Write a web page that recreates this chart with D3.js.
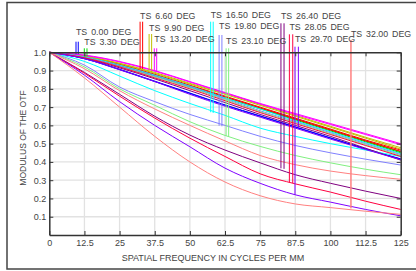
<!DOCTYPE html>
<html>
<head>
<meta charset="utf-8">
<script src="https://cdn.jsdelivr.net/npm/d3@7"></script>
<style>
  body { margin: 0; background: #fff; }
  svg { display: block; font-family: "Liberation Sans", Arial, sans-serif; }
</style>
</head>
<body>
<div id="chart"></div>
<script>
// spatial frequencies where the curves were read (cycles per mm)
const freqs = [0, 12.5, 25, 37.5, 50, 62.5, 75, 87.5, 100, 112.5, 125];

const fieldNames = ["TS 0.00 DEG", "TS 3.30 DEG", "TS 6.60 DEG", "TS 9.90 DEG", "TS 13.20 DEG", "TS 16.50 DEG",
    "TS 19.80 DEG", "TS 23.10 DEG", "TS 26.40 DEG", "TS 28.05 DEG", "TS 29.70 DEG", "TS 32.00 DEG"];

const fieldColors = ["#0000ff", "#00e000", "#ff0000", "#c0c000", "#ff00ff", "#00ffff",
    "#8080ff", "#80f080", "#800080", "#ff0040", "#8000ff", "#ff8080"];

// tangential curves
const mtfT = [
    [1, 0.966, 0.907, 0.842, 0.777, 0.712, 0.652, 0.592, 0.532, 0.472, 0.417],
    [1, 0.975, 0.93, 0.875, 0.815, 0.755, 0.695, 0.635, 0.575, 0.515, 0.455],
    [1, 0.978, 0.935, 0.88, 0.82, 0.76, 0.70, 0.64, 0.58, 0.52, 0.465],
    [1, 0.98, 0.94, 0.89, 0.83, 0.775, 0.715, 0.655, 0.595, 0.535, 0.478],
    [1, 0.985, 0.95, 0.90, 0.84, 0.78, 0.72, 0.665, 0.61, 0.555, 0.50],
    [1, 0.975, 0.93, 0.875, 0.815, 0.75, 0.69, 0.625, 0.565, 0.505, 0.445],
    [1, 0.972, 0.925, 0.87, 0.81, 0.745, 0.68, 0.62, 0.56, 0.50, 0.44],
    [1, 0.97, 0.92, 0.865, 0.805, 0.74, 0.675, 0.615, 0.555, 0.495, 0.435],
    [1, 0.968, 0.915, 0.855, 0.79, 0.725, 0.66, 0.60, 0.54, 0.475, 0.41],
    [1, 0.97, 0.92, 0.86, 0.80, 0.735, 0.67, 0.61, 0.55, 0.49, 0.43],
    [1, 0.965, 0.905, 0.84, 0.77, 0.705, 0.645, 0.585, 0.525, 0.468, 0.412],
    [1, 0.91, 0.79, 0.69, 0.60, 0.515, 0.435, 0.385, 0.35, 0.325, 0.305]
];

// sagittal curves
const mtfS = [
    [1, 0.965, 0.905, 0.84, 0.775, 0.71, 0.65, 0.59, 0.53, 0.47, 0.415],
    [1, 0.973, 0.925, 0.87, 0.81, 0.75, 0.69, 0.63, 0.57, 0.51, 0.45],
    [1, 0.976, 0.93, 0.875, 0.815, 0.755, 0.695, 0.635, 0.575, 0.515, 0.458],
    [1, 0.979, 0.938, 0.885, 0.826, 0.77, 0.71, 0.65, 0.59, 0.53, 0.47],
    [1, 0.983, 0.947, 0.897, 0.837, 0.777, 0.717, 0.66, 0.605, 0.55, 0.495],
    [1, 0.95, 0.87, 0.79, 0.72, 0.655, 0.585, 0.54, 0.50, 0.465, 0.43],
    [1, 0.93, 0.81, 0.73, 0.66, 0.60, 0.54, 0.49, 0.45, 0.415, 0.383],
    [1, 0.92, 0.80, 0.71, 0.62, 0.545, 0.485, 0.435, 0.395, 0.36, 0.33],
    [1, 0.89, 0.77, 0.65, 0.547, 0.465, 0.395, 0.33, 0.283, 0.24, 0.20],
    [1, 0.885, 0.76, 0.64, 0.53, 0.43, 0.335, 0.28, 0.235, 0.185, 0.14],
    [1, 0.875, 0.73, 0.60, 0.483, 0.366, 0.283, 0.22, 0.18, 0.14, 0.105],
    [1, 0.86, 0.70, 0.54, 0.40, 0.29, 0.215, 0.17, 0.15, 0.13, 0.113]
];

// label pointer lines: frequency of each line and the MTF value it drops to
const markerFreqs = [[9.5, 10.3], [12.45, 13.4], [32.3, 33.2], [35.5, 36.4], [37.35, 38.2], [57.4, 58.3],
    [60.4, 61.4], [62.9, 63.8], [82.4, 83.5], [85.4, 86.6], [87.4, 88.6], [107.3, 107.3]];
const markerEnds = [[0.99, 0.99], [0.978, 0.978], [0.91, 0.908], [0.902, 0.9], [0.895, 0.893], [0.672, 0.668],
    [0.598, 0.595], [0.542, 0.538], [0.365, 0.362], [0.288, 0.284], [0.219, 0.585], [0.146, 0.146]];

const xTicks = [0, 12.5, 25, 37.5, 50, 62.5, 75, 87.5, 100, 112.5, 125];
const yTicks = [0.1, 0.2, 0.3, 0.4, 0.5, 0.6, 0.7, 0.8, 0.9, 1.0];

// layout of the staggered labels (pixel rows)
const labelTextY = [32.3, 41.7, 15.7, 28.3, 39.3, 15, 26, 40.7, 16, 27.3, 39, 34];
const labelLineTop = [41.7, 48.3, 21.7, 34, 48.3, 21.7, 35, 48.3, 23.3, 34.3, 46.7, 40];

const width = 416, height = 271;
const plotL = 49.3, plotR = 400.7, plotT = 52.3, plotB = 235;

const svg = d3.select("#chart").append("svg")
    .attr("width", width)
    .attr("height", height);

const x = d3.scaleLinear().domain([0, 125]).range([plotL, plotR]);
const y = d3.scaleLinear().domain([0, 1]).range([plotB, plotT]);

// outer frame
svg.append("rect")
    .attr("x", 7).attr("y", 2.5)
    .attr("width", 430).attr("height", 266.5)
    .attr("fill", "none")
    .attr("stroke", "#444")
    .attr("stroke-width", 1.5);

// grid
svg.append("g").selectAll("line")
    .data(xTicks.slice(1, -1))
    .enter().append("line")
    .attr("x1", d => x(d)).attr("x2", d => x(d))
    .attr("y1", plotT).attr("y2", plotB)
    .attr("stroke", "#e2e2e2").attr("stroke-width", 1.3);

svg.append("g").selectAll("line")
    .data(yTicks.slice(0, -1))
    .enter().append("line")
    .attr("x1", plotL).attr("x2", plotR)
    .attr("y1", d => y(d)).attr("y2", d => y(d))
    .attr("stroke", "#e2e2e2").attr("stroke-width", 1.3);

// curves
const line = d3.line()
    .x((d, i) => x(freqs[i]))
    .y(d => y(d))
    .curve(d3.curveMonotoneX);

const curves = [];
fieldNames.forEach((name, i) => {
    curves.push({ color: fieldColors[i], vals: mtfT[i] });
    curves.push({ color: fieldColors[i], vals: mtfS[i] });
});

svg.append("g").selectAll("path")
    .data(curves)
    .enter().append("path")
    .attr("d", d => line(d.vals))
    .attr("fill", "none")
    .attr("stroke", d => d.color)
    .attr("stroke-width", 1);

// pointer lines
const markers = [];
fieldNames.forEach((name, i) => {
    markerFreqs[i].forEach((f, j) => {
        markers.push({ f: f, v: markerEnds[i][j], y0: labelLineTop[i], color: fieldColors[i] });
    });
});

svg.append("g").selectAll("line")
    .data(markers)
    .enter().append("line")
    .attr("x1", d => x(d.f)).attr("x2", d => x(d.f))
    .attr("y1", d => d.y0).attr("y2", d => y(d.v))
    .attr("stroke", d => d.color)
    .attr("stroke-width", 1);

// labels
svg.append("g").selectAll("text")
    .data(fieldNames)
    .enter().append("text")
    .attr("x", (d, i) => x(markerFreqs[i][0]))
    .attr("y", (d, i) => labelTextY[i])
    .attr("dy", "0.35em")
    .attr("font-size", "8.8px")
    .attr("word-spacing", "1.5px")
    .attr("fill", "#444")
    .text(d => d);

// axes
const axisStyle = g => {
    g.select(".domain").attr("stroke", "#333").attr("stroke-width", 1.5);
    g.selectAll(".tick line").attr("stroke", "#333");
    g.selectAll("text").attr("fill", "#444").attr("font-size", "9px")
        .attr("font-family", "Liberation Sans, Arial, sans-serif");
};

svg.append("g")
    .attr("transform", `translate(0,${plotB})`)
    .call(d3.axisBottom(x).tickValues(xTicks).tickSize(-4).tickPadding(5).tickSizeOuter(0)
        .tickFormat(d => d3.format("~g")(d)))
    .call(axisStyle);

svg.append("g")
    .attr("transform", `translate(${plotL},0)`)
    .call(d3.axisLeft(y).tickValues(yTicks).tickSize(-4).tickPadding(3).tickSizeOuter(0)
        .tickFormat(d3.format(".1f")))
    .call(axisStyle);

svg.append("g")
    .attr("transform", `translate(0,${plotT})`)
    .call(d3.axisTop(x).tickValues(xTicks).tickSize(-4).tickSizeOuter(0).tickFormat(""))
    .call(axisStyle);

svg.append("g")
    .attr("transform", `translate(${plotR},0)`)
    .call(d3.axisRight(y).tickValues(yTicks).tickSize(-4).tickSizeOuter(0).tickFormat(""))
    .call(axisStyle);

// axis titles
svg.append("text")
    .attr("x", 213)
    .attr("y", 257.5)
    .attr("dy", "0.35em")
    .attr("text-anchor", "middle")
    .attr("font-size", "9px")
    .attr("fill", "#444")
    .text("SPATIAL FREQUENCY IN CYCLES PER MM");

svg.append("text")
    .attr("transform", "translate(22.7,138) rotate(-90)")
    .attr("dy", "0.35em")
    .attr("text-anchor", "middle")
    .attr("font-size", "8.5px")
    .attr("fill", "#444")
    .text("MODULUS OF THE OTF");
</script>
</body>
</html>
